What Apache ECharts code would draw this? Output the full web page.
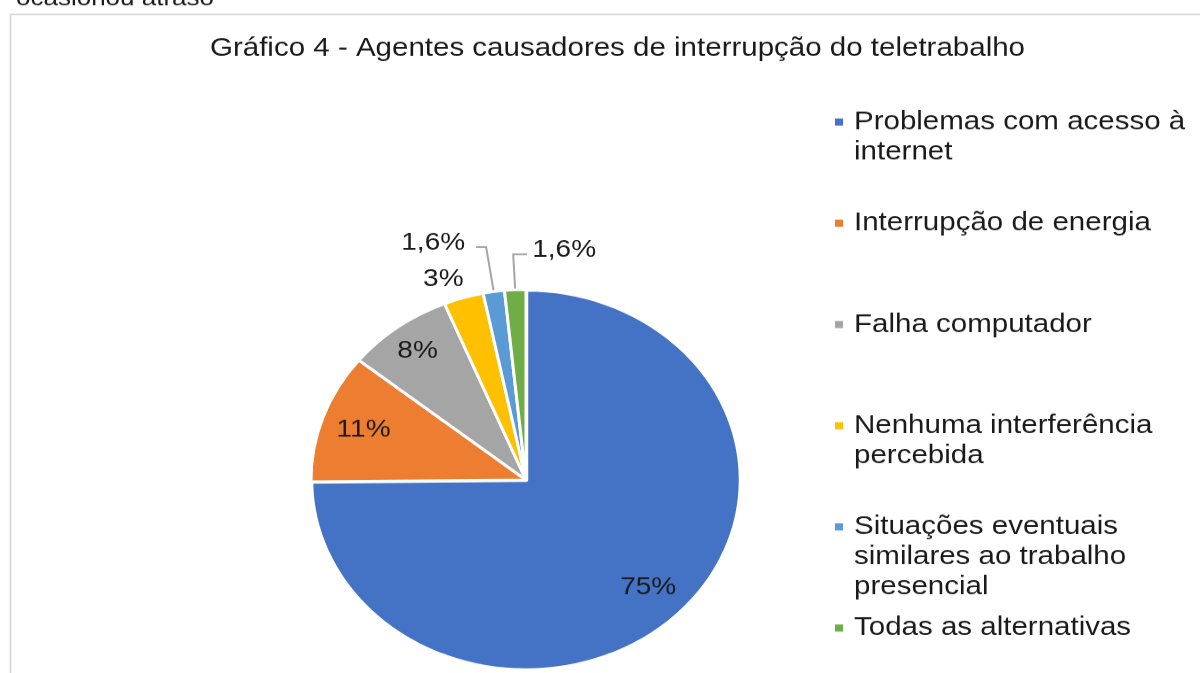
<!DOCTYPE html>
<html>
<head>
<meta charset="utf-8">
<title>Gráfico 4 - Agentes causadores de interrupção do teletrabalho</title>
<script src="https://cdn.jsdelivr.net/npm/echarts@6/dist/echarts.min.js"></script>
<style>
  html, body { margin: 0; padding: 0; overflow: hidden; background: #fff; }
  /* a figura original está achatada na vertical (a pizza virou elipse) */
  #main { width: 1200px; height: 760px; transform: scaleY(0.8855); transform-origin: 0 0; }
</style>
</head>
<body>
<div id="main"></div>
<script>
  // dados
  const categories = [
    'Problemas com acesso à internet',
    'Interrupção de energia',
    'Falha computador',
    'Nenhuma interferência percebida',
    'Situações eventuais similares ao trabalho presencial',
    'Todas as alternativas',
  ]
  const legendLines = [
    ['Problemas com acesso à', 'internet'],
    ['Interrupção de energia'],
    ['Falha computador'],
    ['Nenhuma interferência', 'percebida'],
    ['Situações eventuais', 'similares ao trabalho', 'presencial'],
    ['Todas as alternativas'],
  ]
  const values = [75, 11, 8, 3, 1.6, 1.6]
  const colors = ['#4472C4', '#ED7D31', '#A5A5A5', '#FFC000', '#5B9BD5', '#70AD47']

  // layout
  const FONT = '"Liberation Sans", Arial, sans-serif'
  const TEXT = '#1a1a1a'
  const CX = 526,
    CY = 542,
    R = 215
  const insideRadius = [0.8, 0.8, 0.845]
  const LEGEND_LINE = 34

  let total = values.reduce((a, b) => a + b, 0)

  // ângulo do meio da fatia, a partir do topo, sentido horário
  function midAngle(i) {
    let before = values.slice(0, i).reduce((a, b) => a + b, 0)
    return ((before + values[i] / 2) / total) * Math.PI * 2
  }

  function polar(i, r) {
    let a = midAngle(i)
    return [CX + r * Math.sin(a), CY - r * Math.cos(a)]
  }

  // uma legenda por item, para manter o espaçamento uniforme do Excel
  let legends = categories.map((name, i) => {
    let lines = legendLines[i]
    let text = new Array(lines.length - 1).fill('').concat(lines).join('\n')
    let rows = lines.length * 2 - 1
    let cy = 137.8 + i * 114.3
    return {
      data: [name],
      orient: 'vertical',
      left: 833,
      top: cy - (rows * LEGEND_LINE) / 2,
      padding: 0,
      icon: 'rect',
      itemWidth: 10,
      itemHeight: 10,
      selectedMode: false,
      formatter: () => text,
      textStyle: {
        fontFamily: FONT,
        fontSize: 29.5,
        lineHeight: LEGEND_LINE,
        color: TEXT,
        padding: [0, 0, 0, 5],
      },
    }
  })

  let data = categories.map((name, i) => {
    let item = { name, value: values[i], itemStyle: { color: colors[i] } }
    if (i <= 2) {
      item.label = { position: 'inside' }
      item.labelLine = { show: false }
    }
    if (i === 0) item.itemStyle.borderWidth = 4.5
    if (i === 3) item.labelLine = { show: false }
    return item
  })

  let chart = echarts.init(document.getElementById('main'), null, { renderer: 'canvas' })

  chart.setOption({
    animation: false,
    backgroundColor: '#fff',
    title: {
      text: 'Gráfico 4 - Agentes causadores de interrupção do teletrabalho',
      left: 210,
      top: 39.5,
      padding: 0,
      textStyle: { fontFamily: FONT, fontSize: 29.5, fontWeight: 'normal', color: TEXT },
    },
    legend: legends,
    graphic: [
      {
        type: 'rect',
        shape: { x: 10.5, y: 16.4, width: 1400, height: 1000 },
        style: { fill: 'none', stroke: '#d6d6d6', lineWidth: 1.6 },
        silent: true,
      },
      {
        type: 'text',
        x: 16,
        y: -1,
        style: {
          text: 'ocasionou atraso',
          font: '26px ' + FONT,
          fill: TEXT,
          verticalAlign: 'middle',
        },
        silent: true,
      },
    ],
    series: [
      {
        type: 'pie',
        center: [CX, CY],
        radius: R,
        startAngle: 90,
        clockwise: true,
        avoidLabelOverlap: false,
        itemStyle: { borderColor: '#fff', borderWidth: 3 },
        emphasis: { disabled: true },
        label: {
          show: true,
          position: 'outside',
          fontFamily: FONT,
          fontSize: 28,
          color: TEXT,
          formatter: (p) => String(p.value).replace('.', ',') + '%',
        },
        labelLine: {
          show: true,
          smooth: false,
          lineStyle: { color: '#a6a6a6', width: 2 },
        },
        labelLayout(p) {
          let i = p.dataIndex
          if (i <= 2) {
            let pt = polar(i, R * insideRadius[i])
            return { x: pt[0], y: pt[1], align: 'center', verticalAlign: 'middle' }
          }
          if (i === 3) {
            let pt = polar(i, R)
            return { x: pt[0], y: pt[1] - 21, align: 'right', verticalAlign: 'middle' }
          }
          // 1,6% : linha radial e depois horizontal
          let left = i === 4
          let p0 = polar(i, R),
            p1 = polar(i, R + (left ? 51 : 40)),
            p2 = [p1[0] + (left ? -10 : 14), p1[1]]
          return {
            x: p2[0] + (left ? -11 : 5),
            y: p1[1] - 5,
            align: left ? 'right' : 'left',
            verticalAlign: 'middle',
            labelLinePoints: [p0, p1, p2],
          }
        },
        data,
      },
    ],
  })
</script>
</body>
</html>
